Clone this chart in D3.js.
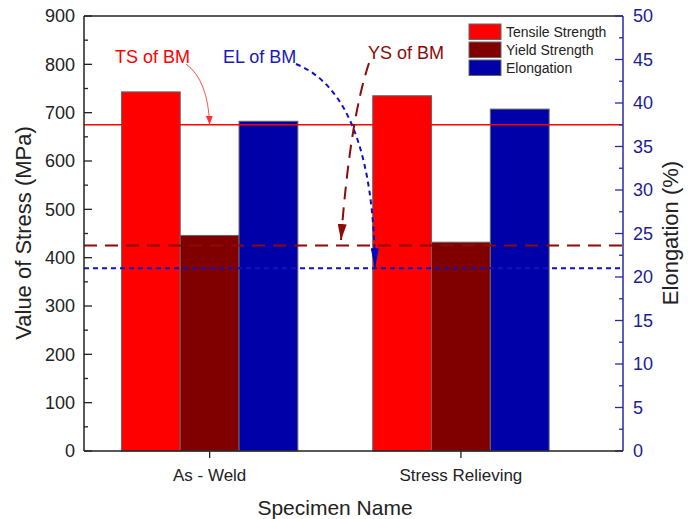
<!DOCTYPE html>
<html>
<head>
<meta charset="utf-8">
<script src="https://cdn.jsdelivr.net/npm/d3@7"></script>
<style>
  body { margin: 0; background: #fff; }
  svg { font-family: Arial, "Liberation Sans", sans-serif; }
</style>
</head>
<body>
<svg id="chart" width="694" height="519"></svg>
<script>
// data
var specimens = ["As - Weld", "Stress Relieving"];
var tensile = [743, 735];
var yieldStr = [446, 432];
var elongation = [37.9, 39.3];
var seriesNames = ["Tensile Strength", "Yield Strength", "Elongation"];
var stressTicks = d3.range(0, 901, 100);
var elongTicks = d3.range(0, 51, 5);

// base metal reference values
var bmTS = 675;
var bmYS = 425;
var bmEL = 21;

var colors = ["#ff0000", "#800000", "#0000a8"];
var navy = "#1c1c94";

var svg = d3.select("#chart");
var plotLeft = 84, plotRight = 623, plotTop = 16, plotBottom = 451;

var x = d3.scaleLinear().domain([0.5, 2.645]).range([plotLeft, plotRight]);
var yS = d3.scaleLinear().domain([0, 900]).range([plotBottom, plotTop]);
var yE = d3.scaleLinear().domain([0, 50]).range([plotBottom, plotTop]);
var barW = 0.234;

// bars
var groups = svg.append("g");
specimens.forEach(function(name, i) {
    var c = i + 1;
    var vals = [
        {v: tensile[i], s: yS},
        {v: yieldStr[i], s: yS},
        {v: elongation[i], s: yE}
    ];
    vals.forEach(function(d, k) {
        var x0 = x(c - 1.5 * barW + k * barW);
        groups.append("rect")
            .attr("x", x0)
            .attr("y", d.s(d.v))
            .attr("width", x(barW) - x(0))
            .attr("height", plotBottom - d.s(d.v))
            .attr("fill", colors[k])
            .attr("stroke", "#666")
            .attr("stroke-width", 1);
    });
});

// reference lines
svg.append("line")
    .attr("x1", plotLeft).attr("x2", plotRight)
    .attr("y1", yS(bmTS)).attr("y2", yS(bmTS))
    .attr("stroke", "#ff0000").attr("stroke-width", 1.5);
svg.append("line")
    .attr("x1", plotLeft).attr("x2", plotRight)
    .attr("y1", yS(bmYS)).attr("y2", yS(bmYS))
    .attr("stroke", "#8b0a0a").attr("stroke-width", 2)
    .attr("stroke-dasharray", "13,8");
svg.append("line")
    .attr("x1", plotLeft).attr("x2", plotRight)
    .attr("y1", yE(bmEL)).attr("y2", yE(bmEL))
    .attr("stroke", "#1010c8").attr("stroke-width", 2)
    .attr("stroke-dasharray", "5,4");

// arrowheads
var defs = svg.append("defs");
function marker(id, color, w, l) {
    defs.append("marker")
        .attr("id", id)
        .attr("markerUnits", "userSpaceOnUse")
        .attr("viewBox", "0 0 " + l + " " + w)
        .attr("refX", l).attr("refY", w / 2)
        .attr("markerWidth", l).attr("markerHeight", w)
        .attr("orient", "auto")
        .append("path")
        .attr("d", "M0,0L" + l + "," + (w / 2) + "L0," + w + "Z")
        .attr("fill", color);
}
marker("arTS", "#ff3030", 7, 9);
marker("arYS", "#8b0a0a", 9, 16);
marker("arEL", "#0000c0", 8, 20);

// annotation curves, in data units: [x, stress]
function curve(p0, p1, p2) {
    var s = function(p) { return x(p[0]) + "," + yS(p[1]); };
    return "M" + s(p0) + "Q" + s(p1) + " " + s(p2);
}
var sx = function(px) { return x.invert(px); };
var sy = function(py) { return yS.invert(py); };

svg.append("path")
    .attr("d", curve([sx(186), sy(64)], [sx(208), sy(80)], [1.0, bmTS]))
    .attr("fill", "none").attr("stroke", "#ff5050").attr("stroke-width", 1)
    .attr("marker-end", "url(#arTS)");
svg.append("path")
    .attr("d", curve([sx(296), sy(64)], [sx(373), sy(95)], [sx(375), yS.invert(yE(bmEL))]))
    .attr("fill", "none").attr("stroke", "#1010c8").attr("stroke-width", 2)
    .attr("stroke-dasharray", "5,4")
    .attr("marker-end", "url(#arEL)");
svg.append("path")
    .attr("d", curve([sx(369), sy(63)], [sx(350), sy(120)], [sx(341), sy(240)]))
    .attr("fill", "none").attr("stroke", "#8b0a0a").attr("stroke-width", 2)
    .attr("stroke-dasharray", "13,8")
    .attr("marker-end", "url(#arYS)");

svg.append("text").attr("x", 115).attr("y", 63).text("TS of BM")
    .attr("fill", "#ff0000").attr("font-size", 18);
svg.append("text").attr("x", 223).attr("y", 63).text("EL of BM")
    .attr("fill", "#1a1ab4").attr("font-size", 18);
svg.append("text").attr("x", 368).attr("y", 59).text("YS of BM")
    .attr("fill", "#8b0a0a").attr("font-size", 18);

// frame
svg.append("line").attr("x1", plotLeft).attr("x2", plotRight).attr("y1", plotTop).attr("y2", plotTop)
    .attr("stroke", "#222").attr("stroke-width", 1.5);

// left axis
var leftAxis = svg.append("g").attr("transform", "translate(" + plotLeft + ",0)");
leftAxis.append("line").attr("y1", plotTop).attr("y2", plotBottom).attr("stroke", "#222").attr("stroke-width", 1.5);
d3.range(0, 901, 50).forEach(function(v) {
    var major = v % 100 === 0;
    leftAxis.append("line").attr("x1", 0).attr("x2", major ? 8 : 4)
        .attr("y1", yS(v)).attr("y2", yS(v)).attr("stroke", "#222").attr("stroke-width", 1.3);
});
leftAxis.selectAll("text.tick").data(stressTicks).enter().append("text")
    .attr("x", -9).attr("y", function(d) { return yS(d); })
    .attr("dy", "0.35em").attr("text-anchor", "end")
    .attr("font-size", 18).attr("fill", "#222")
    .text(function(d) { return d; });

// right axis
var rightAxis = svg.append("g").attr("transform", "translate(" + plotRight + ",0)");
rightAxis.append("line").attr("y1", plotTop).attr("y2", plotBottom).attr("stroke", "#2a2aa0").attr("stroke-width", 1.5);
d3.range(0, 50.1, 2.5).forEach(function(v) {
    var major = v % 5 === 0;
    rightAxis.append("line").attr("x1", 0).attr("x2", major ? -8 : -4)
        .attr("y1", yE(v)).attr("y2", yE(v)).attr("stroke", "#2a2aa0").attr("stroke-width", 1.3);
});
rightAxis.selectAll("text.tick").data(elongTicks).enter().append("text")
    .attr("x", 10).attr("y", function(d) { return yE(d); })
    .attr("dy", "0.35em").attr("text-anchor", "start")
    .attr("font-size", 18).attr("fill", navy)
    .text(function(d) { return d; });

// bottom axis
var bottomAxis = svg.append("g");
bottomAxis.append("line").attr("x1", plotLeft).attr("x2", plotRight).attr("y1", plotBottom).attr("y2", plotBottom)
    .attr("stroke", "#222").attr("stroke-width", 1.5);
specimens.forEach(function(name, i) {
    bottomAxis.append("line").attr("x1", x(i + 1)).attr("x2", x(i + 1))
        .attr("y1", plotBottom).attr("y2", plotBottom + 7).attr("stroke", "#222").attr("stroke-width", 1.3);
    bottomAxis.append("text").attr("x", x(i + 1)).attr("y", 481)
        .attr("text-anchor", "middle").attr("font-size", 17).attr("fill", "#222")
        .text(name);
});

// axis titles
svg.append("text").attr("x", 335).attr("y", 515).attr("text-anchor", "middle")
    .attr("font-size", 21).attr("fill", "#222").text("Specimen Name");
svg.append("text").attr("transform", "translate(31,233) rotate(-90)")
    .attr("text-anchor", "middle").attr("font-size", 22).attr("fill", "#222")
    .text("Value of Stress (MPa)");
svg.append("text").attr("transform", "translate(678,233) rotate(-90)")
    .attr("text-anchor", "middle").attr("font-size", 22).attr("fill", "#222")
    .text("Elongation (%)");

// legend
var legend = svg.append("g");
seriesNames.forEach(function(name, k) {
    legend.append("rect").attr("x", 469).attr("y", 24 + k * 18)
        .attr("width", 32).attr("height", 15.5)
        .attr("fill", colors[k]).attr("stroke", "#666").attr("stroke-width", 1);
    legend.append("text").attr("x", 506).attr("y", 37 + k * 18)
        .attr("font-size", 14).attr("fill", "#222").text(name);
});
</script>
</body>
</html>
